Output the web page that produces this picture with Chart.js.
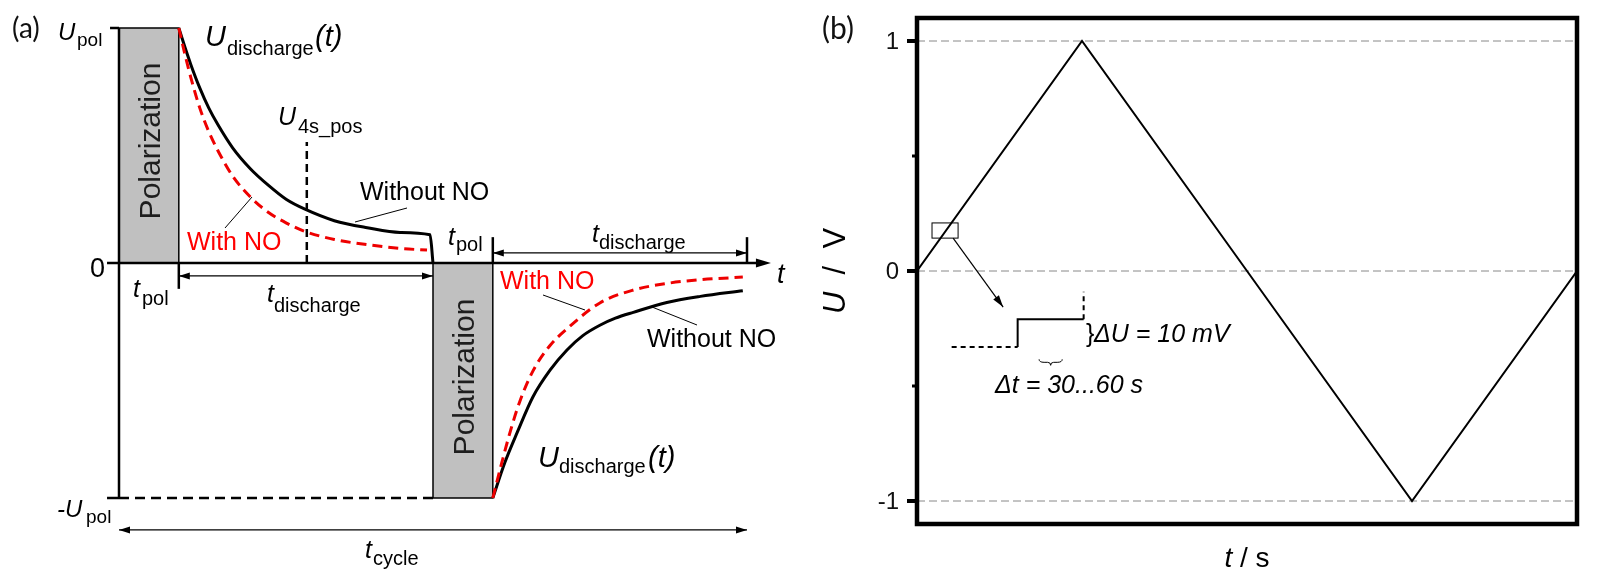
<!DOCTYPE html>
<html>
<head>
<meta charset="utf-8">
<script src="https://cdn.jsdelivr.net/npm/chart.js@4.4.1/dist/chart.umd.min.js"></script>
<style>
html, body { margin: 0; padding: 0; background: #fff; overflow: hidden; }
#chartA { position: absolute; left: 0; top: 0; }
#chartB { position: absolute; left: 800px; top: 0; }
</style>
</head>
<body>
<canvas id="chartA" width="800" height="587"></canvas>
<canvas id="chartB" width="799" height="587"></canvas>
<script>
// (a) discharge curves: time in units of t_pol, voltage in units of U_pol
const tPos = [1.0, 1.1, 1.2, 1.35, 1.5, 1.65, 1.9, 2.2, 2.5, 2.8, 3.1, 3.6, 4.15, 4.7, 5.2, 5.25];
const uPosWithout = [1.0, 0.92, 0.845, 0.745, 0.66, 0.59, 0.49, 0.40, 0.33, 0.27, 0.23, 0.18, 0.15, 0.13, 0.12, 0.0];
const tPosRed = [1.0, 1.1, 1.2, 1.35, 1.5, 1.65, 1.9, 2.2, 2.5, 2.8, 3.1, 3.6, 4.15, 4.7, 5.15];
const uPosWith = [1.0, 0.89, 0.79, 0.66, 0.56, 0.48, 0.37, 0.28, 0.215, 0.17, 0.135, 0.10, 0.078, 0.062, 0.055];

const tNeg = [6.25, 6.45, 6.66, 6.92, 7.21, 7.49, 7.75, 8.04, 8.3, 8.6, 9.16, 9.72, 10.43];
const uNegWithout = [-1.0, -0.85, -0.72, -0.57, -0.455, -0.37, -0.31, -0.265, -0.235, -0.21, -0.168, -0.142, -0.118];
const tNegRed = [6.25, 6.4, 6.55, 6.7, 6.92, 7.21, 7.49, 8.04, 8.6, 9.16, 9.72, 10.43];
const uNegWith = [-1.0, -0.85, -0.71, -0.59, -0.46, -0.35, -0.28, -0.17, -0.115, -0.087, -0.071, -0.06];

// (b) triangular sweep
const tB = [0, 1, 2, 3, 4];
const uB = [0, 1, 0, -1, 0];
const yTicksB = [-1, -0.5, 0, 0.5, 1];
// staircase detail of the sweep
const stepT = [0.21, 0.61, 0.61, 1.01, 1.01];
const stepU = [-0.33, -0.33, -0.21, -0.21, -0.09];

const FONT = '"Liberation Sans", Arial, sans-serif';
const RED = '#ee0000';

const pts = (xs, ys) => xs.map((x, i) => ({ x: x, y: ys[i] }));

function txt(ctx, s, x, y, size, o) {
    o = o || {};
    ctx.save();
    ctx.font = (o.italic ? 'italic ' : '') + size + 'px ' + (o.family || FONT);
    ctx.fillStyle = o.color || '#000';
    ctx.textAlign = o.align || 'left';
    ctx.textBaseline = o.baseline || 'alphabetic';
    if (o.rot) {
        ctx.translate(x, y);
        ctx.rotate(o.rot);
        ctx.fillText(s, 0, 0);
    } else {
        ctx.fillText(s, x, y);
    }
    ctx.restore();
}

// mixed italic / upright runs, centred on x
function runs(ctx, parts, x, y, size, rot) {
    ctx.save();
    ctx.translate(x, y);
    if (rot) ctx.rotate(rot);
    let w = 0;
    parts.forEach(p => { ctx.font = (p[1] ? 'italic ' : '') + size + 'px ' + FONT; w += ctx.measureText(p[0]).width; });
    let cx = -w / 2;
    ctx.fillStyle = '#000';
    ctx.textBaseline = 'alphabetic';
    parts.forEach(p => {
        ctx.font = (p[1] ? 'italic ' : '') + size + 'px ' + FONT;
        ctx.fillText(p[0], cx, 0);
        cx += ctx.measureText(p[0]).width;
    });
    ctx.restore();
}

function line(ctx, x1, y1, x2, y2, lw, dash, color) {
    ctx.save();
    ctx.lineWidth = lw;
    ctx.strokeStyle = color || '#000';
    ctx.setLineDash(dash || []);
    ctx.beginPath();
    ctx.moveTo(x1, y1);
    ctx.lineTo(x2, y2);
    ctx.stroke();
    ctx.restore();
}

function head(ctx, x1, y1, x2, y2, len, w) {
    const a = Math.atan2(y2 - y1, x2 - x1);
    ctx.save();
    ctx.fillStyle = '#000';
    ctx.translate(x2, y2);
    ctx.rotate(a);
    ctx.beginPath();
    ctx.moveTo(0, 0);
    ctx.lineTo(-len, -w);
    ctx.lineTo(-len, w);
    ctx.closePath();
    ctx.fill();
    ctx.restore();
}

function dblArrow(ctx, x1, y1, x2, y2) {
    line(ctx, x1, y1, x2, y2, 1.2);
    head(ctx, x2, y2, x1, y1, 11, 3.5);
    head(ctx, x1, y1, x2, y2, 11, 3.5);
}

// ---------- (a) schematic ----------
const labelsA = [
    ['U', 58, 40, 24, true], ['pol', 77, 46, 19],
    ['0', 90, 277, 27],
    ['-U', 57, 517, 24, true], ['pol', 86, 523, 19],
    ['U', 205, 46, 29, true], ['discharge', 227, 55, 20], ['(t)', 315, 46, 29, true],
    ['U', 278, 125, 25, true], ['4s_pos', 298, 133, 20],
    ['Without NO', 360, 200, 25],
    ['t', 133, 297, 25, true], ['pol', 142, 305, 20],
    ['t', 267, 302, 25, true], ['discharge', 274, 312, 20],
    ['t', 448, 245, 25, true], ['pol', 456, 251, 20],
    ['t', 592, 242, 25, true], ['discharge', 599, 249, 20],
    ['t', 777, 283, 27, true],
    ['Without NO', 647, 347, 25],
    ['U', 538, 467, 29, true], ['discharge', 559, 473, 20], ['(t)', 648, 467, 29, true],
    ['t', 365, 558, 25, true], ['cycle', 373, 565, 20]
];
const redLabelsA = [['With NO', 187, 250], ['With NO', 500, 289]];
const pointersA = [[225, 228, 252, 197], [407, 208, 355, 222], [543, 295, 585, 310], [652, 307, 697, 325]];

const schemeA = {
    id: 'schemeA',
    beforeDatasetsDraw(chart) {
        const ctx = chart.ctx, X = v => chart.scales.x.getPixelForValue(v), Y = v => chart.scales.y.getPixelForValue(v);
        ctx.save();
        [[0, 1, 0, 1], [5.25, 6.25, -1, 0]].forEach(r => {
            const x0 = X(r[0]), x1 = X(r[1]), y0 = Y(r[3]), y1 = Y(r[2]);
            ctx.fillStyle = '#c0c0c0';
            ctx.fillRect(x0, y0, x1 - x0, y1 - y0);
            ctx.lineWidth = 1.5;
            ctx.strokeStyle = '#000';
            ctx.strokeRect(x0, y0, x1 - x0, y1 - y0);
        });
        ctx.restore();
        txt(ctx, 'Polarization', 160, 141, 30, { align: 'center', rot: -Math.PI / 2, color: '#1e1e1e' });
        txt(ctx, 'Polarization', 474, 377, 30, { align: 'center', rot: -Math.PI / 2, color: '#1e1e1e' });
    },
    afterDraw(chart) {
        const ctx = chart.ctx, X = v => chart.scales.x.getPixelForValue(v), Y = v => chart.scales.y.getPixelForValue(v);
        // axes
        line(ctx, X(0), Y(1), X(0), Y(-1), 2.5);
        line(ctx, X(-0.15), Y(1), X(0), Y(1), 2.5);
        line(ctx, X(-0.2), Y(0), X(10.7), Y(0), 2.5);
        head(ctx, X(10.5), Y(0), X(10.9), Y(0), 15, 4.5);
        line(ctx, X(-0.2), Y(-1), X(0), Y(-1), 2.5);
        line(ctx, X(0), Y(-1), X(5.25), Y(-1), 2.5, [10, 6]);
        line(ctx, X(3.14), Y(0), X(3.14), Y(0.515), 2.5, [8, 5]);
        // time marks
        line(ctx, X(1), Y(0), X(1), Y(-0.11), 2.5);
        line(ctx, X(6.25), Y(0), X(6.25), Y(0.11), 2.5);
        line(ctx, X(10.5), Y(0), X(10.5), Y(0.11), 2.5);
        dblArrow(ctx, X(1), Y(-0.055), X(5.25), Y(-0.055));
        dblArrow(ctx, X(6.25), Y(0.043), X(10.5), Y(0.043));
        dblArrow(ctx, X(0), Y(-1.136), X(10.5), Y(-1.136));
        pointersA.forEach(p => line(ctx, p[0], p[1], p[2], p[3], 1));
        txt(ctx, '(a)', 12, 38, 28, { family: 'Lato', color: '#111' });
        labelsA.forEach(l => txt(ctx, l[0], l[1], l[2], l[3], { italic: l[4] }));
        redLabelsA.forEach(l => txt(ctx, l[0], l[1], l[2], 25, { color: '#ff0000' }));
    }
};

new Chart(document.getElementById('chartA'), {
    type: 'line',
    data: {
        datasets: [
            { data: pts(tPosRed, uPosWith), borderColor: RED, borderWidth: 3, borderDash: [10, 6] },
            { data: pts(tNegRed, uNegWith), borderColor: RED, borderWidth: 3, borderDash: [10, 6] },
            { data: pts(tPos, uPosWithout), borderColor: '#000', borderWidth: 3 },
            { data: pts(tNeg, uNegWithout), borderColor: '#000', borderWidth: 3 }
        ]
    },
    options: {
        responsive: false,
        animation: false,
        events: [],
        layout: { padding: { left: 119, right: 53, top: 28, bottom: 89 } },
        elements: { point: { radius: 0 }, line: { cubicInterpolationMode: 'monotone', borderCapStyle: 'butt' } },
        datasets: { line: { clip: false } },
        plugins: { legend: { display: false }, tooltip: { enabled: false } },
        scales: {
            x: { type: 'linear', min: 0, max: 10.5, display: false },
            y: { type: 'linear', min: -1, max: 1, display: false }
        }
    },
    plugins: [schemeA]
});

// ---------- (b) triangular sweep ----------
const axesB = {
    id: 'axesB',
    beforeDatasetsDraw(chart) {
        const ctx = chart.ctx, a = chart.chartArea, Y = v => chart.scales.y.getPixelForValue(v);
        yTicksB.filter(v => Number.isInteger(v)).forEach(v => line(ctx, a.left, Y(v), a.right, Y(v), 1, [8, 4], '#888'));
    },
    afterDraw(chart) {
        const ctx = chart.ctx, a = chart.chartArea;
        const X = v => chart.scales.x.getPixelForValue(v), Y = v => chart.scales.y.getPixelForValue(v);
        ctx.save();
        ctx.lineWidth = 4.5;
        ctx.strokeStyle = '#000';
        ctx.strokeRect(a.left, a.top, a.right - a.left, a.bottom - a.top);
        ctx.restore();
        yTicksB.forEach(v => {
            const major = Number.isInteger(v);
            line(ctx, a.left - (major ? 10 : 5), Y(v), a.left, Y(v), major ? 4 : 3);
            if (major) txt(ctx, String(v), a.left - 18, Y(v) + 1, 24, { align: 'right', baseline: 'middle', color: '#111' });
        });
        // zoom box and pointer
        ctx.save();
        ctx.lineWidth = 1;
        ctx.strokeStyle = '#000';
        ctx.strokeRect(X(0.091), Y(0.209), X(0.249) - X(0.091), Y(0.143) - Y(0.209));
        ctx.restore();
        line(ctx, X(0.219), Y(0.143), X(0.522), Y(-0.157), 1.2);
        head(ctx, X(0.219), Y(0.143), X(0.522), Y(-0.157), 12, 3.5);
        // small brace under the step
        const bx0 = X(0.74), bx1 = X(0.88), by = Y(-0.384), bm = (bx0 + bx1) / 2;
        ctx.save();
        ctx.lineWidth = 1;
        ctx.strokeStyle = '#000';
        ctx.beginPath();
        ctx.moveTo(bx0, by);
        ctx.quadraticCurveTo(bx0, by + 3, bx0 + 5, by + 3);
        ctx.lineTo(bm - 3, by + 3);
        ctx.quadraticCurveTo(bm, by + 3, bm, by + 6);
        ctx.quadraticCurveTo(bm, by + 3, bm + 3, by + 3);
        ctx.lineTo(bx1 - 5, by + 3);
        ctx.quadraticCurveTo(bx1, by + 3, bx1, by);
        ctx.stroke();
        ctx.restore();
        txt(ctx, '}', 286, 342, 25);
        txt(ctx, '\u0394U = 10 mV', 294, 342, 25, { italic: true });
        txt(ctx, '\u0394t = 30...60 s', 195, 393, 25, { italic: true });
        txt(ctx, '(b)', 22, 39, 30, { family: 'Lato', color: '#111' });
        runs(ctx, [['U', true], ['  /  V', false]], 45, (a.top + a.bottom) / 2, 31, -Math.PI / 2);
        runs(ctx, [['t', true], [' / s', false]], (a.left + a.right) / 2, 567, 28);
    }
};

new Chart(document.getElementById('chartB'), {
    type: 'line',
    data: {
        datasets: [
            { data: pts(tB, uB), borderColor: '#000', borderWidth: 2, tension: 0 },
            {
                data: pts(stepT, stepU), borderColor: '#000', borderWidth: 2, tension: 0,
                segment: { borderDash: c => (c.p0DataIndex === 0 || c.p0DataIndex === 3) ? [5, 4] : undefined }
            }
        ]
    },
    options: {
        responsive: false,
        animation: false,
        events: [],
        layout: { padding: { left: 117, top: 18, right: 22, bottom: 63 } },
        elements: { point: { radius: 0 } },
        plugins: { legend: { display: false }, tooltip: { enabled: false } },
        scales: {
            x: { type: 'linear', min: 0, max: 4, display: false },
            y: { type: 'linear', min: -1.1, max: 1.1, display: false }
        }
    },
    plugins: [axesB]
});
</script>
</body>
</html>
